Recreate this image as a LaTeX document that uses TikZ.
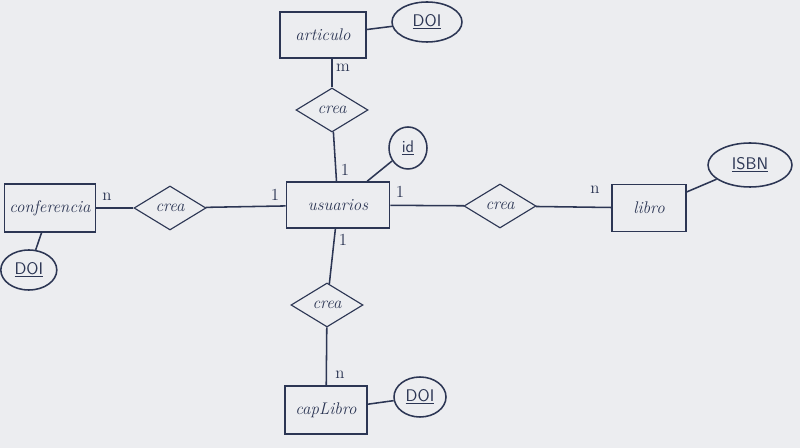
\documentclass[tikz,border=0pt]{standalone}
\usepackage{tikz}
\usetikzlibrary{shapes.geometric,positioning,calc}

\definecolor{ink}{RGB}{44,54,84}
\definecolor{paper}{RGB}{236,237,240}

\tikzset{
  entity/.style={draw=ink, line width=1.1pt, minimum height=1.15cm, text=ink, font=\large\itshape},
  relation/.style={draw=ink, diamond, line width=0.8pt, minimum width=1.8cm, minimum height=1.1cm, inner sep=0pt, text=ink, font=\large\itshape},
  attrib/.style={draw=ink, ellipse, line width=1.1pt, minimum height=1cm, inner sep=0pt, text=ink, font=\large\sffamily},
  card/.style={text=ink, font=\large},
  link/.style={draw=ink, line width=1.1pt}
}

\begin{document}
\begin{tikzpicture}
    % Paper
    \fill[paper] (0,0) rectangle (20,11.2);
    \useasboundingbox (0,0) rectangle (20,11.2);

    % Central entity
    \node[entity, minimum width=2.575cm] (usuarios) at (8.45, 6.075) {usuarios};
    \node[attrib, minimum width=0.95cm, minimum height=1.05cm] (id) at (10.2, 7.5) {\underline{id}};

    % Top branch
    \node[entity, minimum width=2.15cm] (articulo) at (8.075, 10.325) {articulo};
    \node[attrib, minimum width=1.75cm] (doiA) at (10.675, 10.65) {\underline{DOI}};
    \node[relation] (creaA) at (8.3, 8.45) {crea};

    % Left branch
    \node[entity, minimum width=2.25cm, minimum height=1.2cm] (conferencia) at (1.25, 6.0) {conferencia};
    \node[attrib, minimum width=1.4cm] (doiL) at (0.72, 4.45) {\underline{DOI}};
    \node[relation] (creaL) at (4.25, 6.0) {crea};

    % Right branch
    \node[entity, minimum width=1.85cm, minimum height=1.175cm] (libro) at (16.225, 6.0) {libro};
    \node[attrib, minimum width=2.1cm, minimum height=1.1cm] (isbn) at (18.75, 7.075) {\underline{ISBN}};
    \node[relation] (creaR) at (12.5, 6.05) {crea};

    % Bottom branch
    \node[entity, minimum width=2.05cm, minimum height=1.2cm] (capLibro) at (8.15, 0.95) {capLibro};
    \node[attrib, minimum width=1.3cm] (doiB) at (10.5, 1.275) {\underline{DOI}};
    \node[relation] (creaB) at (8.175, 3.575) {crea};

    % Connectors
    \draw[link] (creaA.north) -- (creaA.north |- articulo.south);
    \draw[link] (creaA) -- (usuarios);
    \draw[link] (usuarios) -- (creaL);
    \draw[link] (creaL) -- (conferencia);
    \draw[link] (usuarios) -- (creaR);
    \draw[link] (creaR) -- (libro);
    \draw[link] (usuarios) -- (creaB);
    \draw[link] (creaB) -- (capLibro);

    % Attribute links
    \draw[link] (articulo) -- (doiA);
    \draw[link] (usuarios) -- (id);
    \draw[link] (conferencia) -- (doiL);
    \draw[link] (libro) -- (isbn);
    \draw[link] (capLibro) -- (doiB);

    % Cardinalities
    \node[card] (cA) at (8.575, 9.5) {m};
    \node[card] (cU) at (8.625, 6.95) {1};
    \node[card] (cUL) at (6.875, 6.325) {1};
    \node[card] (cUR) at (10.0, 6.4) {1};
    \node[card] (cUB) at (8.575, 5.2) {1};
    \node[card] (cL) at (2.675, 6.275) {n};
    \node[card] (cR) at (14.875, 6.45) {n};
    \node[card] (cB) at (8.5, 1.825) {n};
\end{tikzpicture}
\end{document}
